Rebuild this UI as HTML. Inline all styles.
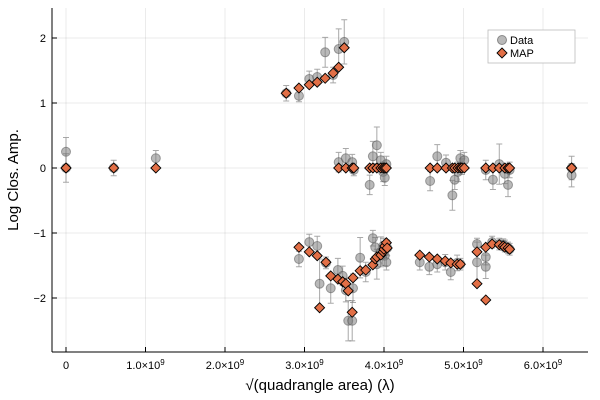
<!DOCTYPE html>
<html><head><meta charset="utf-8"><style>
body{margin:0;background:#fff}
svg{display:block;font-family:"Liberation Sans",sans-serif}
</style></head><body>
<svg id="chart" width="600" height="400" viewBox="0 0 600 400" xmlns="http://www.w3.org/2000/svg">
<g id="grid"></g>
<rect x="52" y="8" width="536" height="344" fill="none"/>
<line x1="52" y1="352" x2="588" y2="352" stroke="#000" stroke-width="1"/>
<line x1="52" y1="8" x2="52" y2="352" stroke="#000" stroke-width="1"/>
<g id="ticks"></g>
<g id="marks"></g>
<text x="320" y="390" font-size="15" text-anchor="middle">√(quadrangle area) (λ)</text>
<text transform="translate(18,180) rotate(-90)" font-size="15" text-anchor="middle">Log Clos. Amp.</text>
<g>
<rect x="488" y="30" width="87" height="33" fill="#fff" stroke="#bbb" stroke-width="0.8"/>
<g>
<circle cx="502" cy="40" r="4.5" fill="rgba(128,128,128,0.55)" stroke="rgba(80,80,80,0.6)"/>
<text x="510" y="44" font-size="11">Data</text></g>
<g>
<polygon points="502,48 507,53 502,58 497,53" fill="#e26f46" stroke="#000" stroke-width="0.9"/>
<text x="510" y="57" font-size="11">MAP</text></g>
</g>
</svg>
<script>
const xVals=[0,0,0.60,1.13,2.77,2.93,3.06,3.16,3.26,3.36,3.43,3.50,
2.93,3.06,3.16,3.19,3.27,3.33,3.42,3.48,3.52,3.55,3.60,3.61,3.70,3.77,3.86,3.89,3.91,3.96,3.99,4.00,4.01,4.03,4.04,
3.43,3.52,3.60,3.62,3.82,3.86,3.91,3.96,3.99,4.01,4.03,
4.58,4.67,4.78,4.86,4.89,4.93,4.96,4.98,5.01,5.28,5.37,5.45,5.52,5.56,5.58,6.36,6.36,
4.45,4.57,4.67,4.77,4.84,4.92,4.96,5.17,5.17,5.28,5.28,5.36,5.45,5.50,5.52,5.56,5.58];
const dataY=[0.25,0,0,0.15,1.15,1.11,1.37,1.40,1.78,1.43,1.83,1.94,
-1.40,-1.14,-1.20,-1.78,-1.46,-1.85,-1.57,-1.66,-1.88,-2.35,-2.35,-1.85,-1.38,-1.60,-1.08,-1.22,-1.48,-1.29,-1.20,-1.25,-1.35,-1.45,-1.23,
0.09,0.15,0.09,-0.03,-0.26,0.18,0.35,0.12,-0.06,-0.15,0.06,
-0.20,0.18,0.08,-0.42,-0.18,-0.06,0.15,0.02,0.12,-0.03,-0.18,0.06,-0.09,-0.26,-0.03,0,-0.11,
-1.45,-1.52,-1.48,-1.45,-1.60,-1.46,-1.48,-1.45,-1.17,-1.52,-1.37,-1.14,-1.17,-1.18,-1.20,-1.23,-1.25];
const dataErr=[0.22,0.22,0.12,0.12,0.12,0.09,0.12,0.12,0.23,0.12,0.31,0.34,
0.12,0.12,0.15,0.38,0.09,0.23,0.18,0.15,0.18,0.31,0.31,0.22,0.31,0.15,0.12,0.15,0.23,0.23,0.12,0.12,0.15,0.12,0.12,
0.15,0.15,0.12,0.09,0.15,0.23,0.28,0.12,0.15,0.12,0.12,
0.15,0.18,0.12,0.23,0.15,0.15,0.12,0.12,0.12,0.15,0.15,0.31,0.15,0.18,0.12,0.18,0.18,
0.12,0.12,0.12,0.12,0.12,0.12,0.09,0.31,0.09,0.18,0.12,0.09,0.09,0.09,0.09,0.09,0.09];
const mapY=[0,0,0,0,1.15,1.23,1.28,1.32,1.38,1.46,1.55,1.85,
-1.22,-1.29,-1.35,-2.15,-1.45,-1.66,-1.71,-1.75,-1.78,-1.89,-2.22,-1.69,-1.58,-1.57,-1.49,-1.40,-1.37,-1.34,-1.29,-1.25,-1.20,-1.15,-1.23,
0,0,0,0,0,0,0,0,0,0,0,
0,0,0,0,0,0,0,0,0,0,0,0,0,0,0,0,0,
-1.34,-1.37,-1.40,-1.43,-1.46,-1.48,-1.48,-1.78,-1.29,-2.03,-1.22,-1.17,-1.18,-1.20,-1.22,-1.23,-1.25];
const xTicks=[0,1,2,3,4,5,6];
const yTicks=[-2,-1,0,1,2];
const NS="http://www.w3.org/2000/svg";
const X=v=>66+v*79.5, Y=v=>168-v*65;
function mk(tag,attrs,parent){const e=document.createElementNS(NS,tag);for(const k in attrs)e.setAttribute(k,attrs[k]);parent.appendChild(e);return e;}
const grid=document.getElementById('grid'),ticks=document.getElementById('ticks'),marks=document.getElementById('marks');
xTicks.forEach(t=>{
 const g=mk('line',{x1:X(t),x2:X(t),y1:8,y2:352,stroke:'#000','stroke-opacity':0.08},grid);
 
 
 const tk=mk('line',{x1:X(t),x2:X(t),y1:352,y2:347,stroke:'#000'},ticks);
 
 
 const tx=mk('text',{x:X(t),y:369,'font-size':11,'text-anchor':'middle'},ticks);
 
 
 if(t===0){tx.textContent='0';}else{tx.textContent=t.toFixed(1)+'×10';const s=mk('tspan',{dy:-4,'font-size':8},tx);s.textContent='9';}
});
yTicks.forEach(t=>{
 const g=mk('line',{x1:52,x2:588,y1:Y(t),y2:Y(t),stroke:'#000','stroke-opacity':0.08},grid);
 
 
 const tk=mk('line',{x1:52,x2:57,y1:Y(t),y2:Y(t),stroke:'#000'},ticks);
 
 
 const tx=mk('text',{x:46,y:Y(t)+4,'font-size':11,'text-anchor':'end'},ticks);
 
 
 tx.textContent=t<0?'−'+(-t):String(t);
});
xVals.forEach((x,i)=>{
 const cx=X(x),cy=Y(dataY[i]),e=dataErr[i]*65;
 const eb=mk('path',{d:`M${cx},${cy-e}V${cy+e}M${cx-3},${cy-e}H${cx+3}M${cx-3},${cy+e}H${cx+3}`,stroke:'rgba(110,110,110,0.6)','stroke-width':1,fill:'none'},marks);
 
 
 const c=mk('circle',{cx:cx,cy:cy,r:4.5,fill:'rgba(128,128,128,0.55)',stroke:'rgba(80,80,80,0.5)'},marks);
 
 
});
xVals.forEach((x,i)=>{
 const cx=X(x),cy=Y(mapY[i]);
 const d=mk('polygon',{points:`${cx},${cy-5} ${cx+5},${cy} ${cx},${cy+5} ${cx-5},${cy}`,fill:'#e26f46',stroke:'#000','stroke-width':0.9},marks);
 
 
});
</script>
</body></html>
